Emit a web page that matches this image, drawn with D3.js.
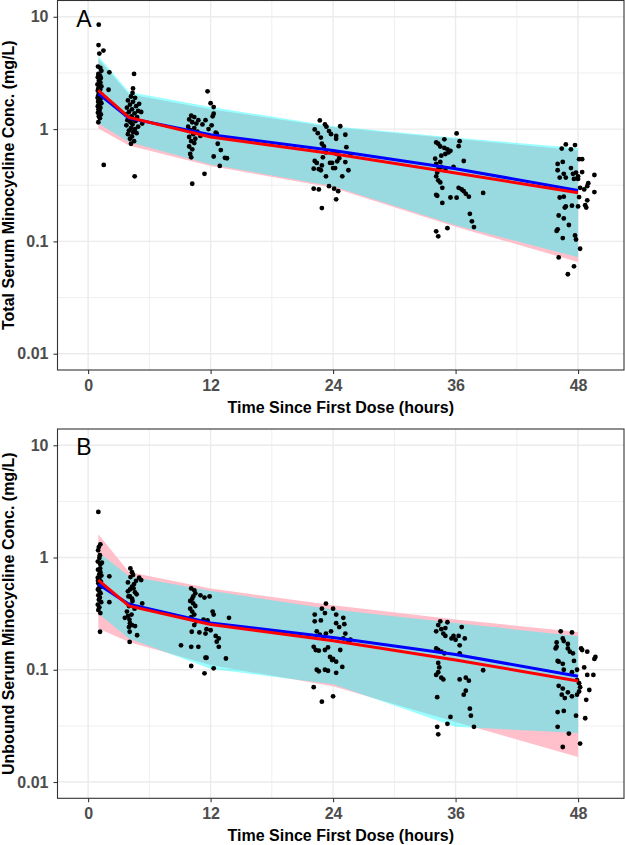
<!DOCTYPE html>
<html><head><meta charset="utf-8">
<script src="https://cdn.jsdelivr.net/npm/d3@7"></script>
<style>body{margin:0;background:#fff}svg{display:block}</style>
</head><body><svg id="chart" width="625" height="845"></svg>
<script>
// ---------- data ----------
const times = [1, 4, 12, 24, 36, 48];
const xTicks = [0, 12, 24, 36, 48];
const xMinor = [6, 18, 30, 42];
const yTicks = [0.01, 0.1, 1, 10];
const yTickLabels = ["0.01", "0.1", "1", "10"];
const yMinor = [0.0316, 0.316, 3.16];

// Panel A (total)
const pinkLoA = [1.01, 0.716, 0.47, 0.30, 0.135, 0.0655];
const pinkHiA = [4.23, 2.04, 1.50, 1.04, 0.82, 0.646];
const cyanLoA = [1.12, 0.766, 0.485, 0.309, 0.139, 0.0724];
const cyanHiA = [4.47, 2.14, 1.57, 1.06, 0.838, 0.677];
const blueA = [2.07, 1.25, 0.89, 0.646, 0.444, 0.284];
const redA = [2.21, 1.27, 0.85, 0.604, 0.406, 0.271];
const ptsA = [
[1.04,8.5],[1.02,5.6],[1.5,5.0],[1.1,4.7],[0.97,3.6],[1.2,3.5],[1.3,3.3],[1.0,3.1],[1.15,3.0],[0.95,2.9],[1.25,2.85],[1.05,2.7],[1.2,2.6],[0.92,2.5],[1.1,2.45],[1.3,2.4],[1.0,2.3],[1.18,2.25],[0.95,2.2],[1.08,2.1],[1.28,2.05],[1.0,2.0],[1.15,1.95],[0.93,1.9],[1.22,1.85],[1.05,1.8],[0.98,1.75],[1.3,1.7],[1.1,1.65],[0.95,1.6],[1.2,1.55],[1.02,1.5],[1.12,1.45],[0.96,1.4],[1.25,1.35],[1.05,1.3],[1.15,1.25],[1.0,1.15],[2.08,3.2],[2.0,2.24],[1.53,0.48],
[4.5,3.1],[4.4,2.3],[4.35,2.1],[4.2,1.95],[4.6,1.9],[3.9,1.8],[4.4,1.75],[5.0,1.68],[4.1,1.65],[4.7,1.6],[3.8,1.55],[4.3,1.5],[4.9,1.45],[4.0,1.42],[5.2,1.42],[4.55,1.38],[3.7,1.35],[4.25,1.3],[4.8,1.28],[4.05,1.25],[4.45,1.22],[3.85,1.2],[4.65,1.18],[4.15,1.15],[5.3,1.12],[4.35,1.1],[3.75,1.08],[4.9,1.05],[4.2,1.02],[4.6,1.0],[4.0,0.97],[4.4,0.94],[4.75,0.92],[3.9,0.9],[4.3,0.86],[4.1,0.82],[4.5,0.78],[4.2,0.74],[4.56,0.38],
[11.7,2.17],[12.0,1.70],[12.3,1.57],[12.3,1.37],[12.2,1.3],[10.1,1.32],[10.4,1.28],[9.9,1.22],[10.8,1.2],[11.5,1.2],[10.2,1.15],[10.6,1.12],[11.2,1.1],[12.1,1.08],[9.8,1.05],[10.4,1.02],[11.8,1.0],[10.0,0.98],[10.7,0.95],[12.5,0.93],[12.6,0.91],[10.3,0.9],[11.0,0.87],[9.9,0.85],[10.5,0.82],[10.1,0.78],[12.7,0.74],[10.4,0.75],[9.9,0.7],[10.2,0.66],[13.0,0.65],[10.0,0.6],[10.1,0.56],[13.4,0.555],[12.3,0.57],[12.9,0.47],[11.4,0.40],[10.2,0.326],[13.6,0.55],
[22.7,1.195],[23.2,1.10],[23.35,1.05],[24.7,1.06],[22.2,0.994],[23.6,0.96],[25.2,0.89],[24.3,0.87],[24.3,0.82],[22.8,0.84],[22.9,0.74],[23.1,0.7],[25.3,0.69],[23.3,0.62],[24.0,0.63],[24.2,0.61],[24.4,0.6],[25.7,0.595],[22.2,0.52],[22.4,0.5],[22.9,0.475],[23.7,0.5],[23.9,0.5],[24.4,0.516],[25.2,0.508],[22.1,0.444],[22.6,0.44],[22.8,0.43],[24.0,0.45],[24.2,0.45],[25.5,0.43],[23.3,0.38],[24.9,0.38],[22.1,0.295],[22.6,0.29],[23.6,0.31],[24.1,0.295],[24.5,0.28],[24.3,0.237],[22.9,0.198],[24.6,0.55],[23.0,0.56],[23.8,0.9],[22.5,0.92],
[36.1,0.915],[36.4,0.78],[34.9,0.81],[36.3,0.705],[34.1,0.76],[34.3,0.74],[34.5,0.7],[34.9,0.68],[35.2,0.66],[35.5,0.64],[35.3,0.62],[35.0,0.6],[34.6,0.58],[34.0,0.545],[34.5,0.51],[34.1,0.49],[36.8,0.52],[34.6,0.46],[34.3,0.44],[34.2,0.41],[34.1,0.38],[34.3,0.35],[34.5,0.335],[35.8,0.46],[35.0,0.43],[34.7,0.30],[36.3,0.30],[36.8,0.28],[37.0,0.265],[37.3,0.25],[36.6,0.29],[38.7,0.27],[35.5,0.246],[36.1,0.245],[34.1,0.26],[34.2,0.255],[34.7,0.22],[37.4,0.176],[37.6,0.151],[37.8,0.134],[34.1,0.123],[34.3,0.111],[35.2,0.131],
[46.8,0.73],[46.4,0.67],[47.7,0.72],[47.3,0.66],[48.1,0.54],[48.4,0.54],[46.0,0.49],[46.5,0.51],[46.0,0.43],[46.6,0.4],[46.8,0.37],[46.2,0.37],[47.3,0.45],[47.5,0.4],[47.8,0.41],[48.0,0.38],[47.6,0.36],[48.0,0.36],[48.4,0.414],[49.6,0.39],[48.9,0.31],[48.6,0.29],[49.6,0.275],[46.2,0.246],[46.6,0.25],[48.1,0.248],[48.9,0.232],[47.4,0.208],[48.0,0.205],[48.7,0.21],[48.8,0.2],[46.7,0.2],[46.8,0.205],[46.1,0.17],[46.6,0.16],[47.1,0.14],[46.0,0.128],[45.9,0.124],[46.5,0.107],[47.7,0.113],[47.8,0.104],[48.2,0.086],[46.1,0.072],[47.6,0.06],[47.0,0.051],[49.0,0.33],[48.2,0.3]
];

// Panel B (unbound)
const pinkLoB = [0.233, 0.177, 0.110, 0.0713, 0.0343, 0.0167];
const pinkHiB = [1.61, 0.744, 0.529, 0.376, 0.28, 0.217];
const cyanLoB = [0.317, 0.19, 0.102, 0.0743, 0.031, 0.0273];
const cyanHiB = [1.12, 0.681, 0.505, 0.344, 0.261, 0.199];
const blueB = [0.578, 0.383, 0.261, 0.194, 0.137, 0.0875];
const redB = [0.628, 0.37, 0.253, 0.181, 0.122, 0.0795];
const ptsB = [
[1.0,2.55],[1.2,1.31],[1.05,1.24],[0.98,1.16],[1.15,1.05],[1.1,0.99],[0.95,0.92],[1.35,0.9],[1.2,0.87],[0.97,0.78],[1.2,0.74],[1.1,0.71],[2.08,0.68],[0.95,0.66],[1.1,0.64],[1.25,0.61],[1.0,0.59],[1.12,0.57],[1.3,0.55],[0.96,0.52],[1.1,0.5],[1.22,0.48],[1.0,0.46],[1.15,0.44],[1.05,0.42],[1.28,0.4],[0.95,0.38],[1.1,0.36],[1.0,0.34],[1.2,0.32],[2.08,0.40],[1.17,0.218],[0.97,0.62],[1.3,0.69],[1.18,0.8],[1.05,0.53],
[4.14,0.80],[4.3,0.74],[4.4,0.7],[4.15,0.67],[5.0,0.66],[5.2,0.63],[3.9,0.6],[4.5,0.58],[4.3,0.55],[4.1,0.52],[3.9,0.5],[4.6,0.49],[4.75,0.47],[4.1,0.45],[4.3,0.43],[5.3,0.39],[4.35,0.41],[4.0,0.37],[4.55,0.35],[3.8,0.33],[3.6,0.29],[3.9,0.3],[4.05,0.28],[4.1,0.26],[4.3,0.25],[4.0,0.24],[4.6,0.245],[4.07,0.218],[4.8,0.203],[4.07,0.177],[4.25,0.31],[3.95,0.45],[4.45,0.53],[4.2,0.38],[4.7,0.62],
[10.1,0.53],[10.4,0.51],[10.5,0.48],[10.3,0.45],[10.2,0.43],[10.0,0.41],[10.3,0.39],[10.5,0.37],[10.0,0.35],[10.2,0.33],[10.4,0.31],[10.1,0.295],[11.0,0.46],[11.4,0.44],[11.9,0.45],[12.2,0.33],[12.3,0.31],[11.3,0.28],[11.7,0.275],[13.8,0.29],[11.6,0.23],[12.0,0.225],[12.5,0.2],[12.8,0.19],[12.6,0.178],[11.5,0.21],[10.9,0.215],[10.15,0.218],[9.1,0.165],[10.1,0.16],[10.8,0.16],[12.8,0.16],[11.5,0.128],[13.5,0.126],[10.1,0.108],[11.4,0.093],[12.3,0.103],[11.6,0.128],[10.4,0.25],[10.6,0.27],
[23.3,0.389],[22.9,0.35],[24.0,0.35],[22.2,0.31],[23.2,0.32],[24.3,0.31],[25.0,0.29],[22.2,0.27],[22.8,0.275],[24.3,0.26],[25.1,0.255],[24.6,0.24],[22.4,0.22],[22.7,0.205],[23.3,0.21],[23.8,0.22],[25.2,0.21],[23.1,0.195],[25.0,0.19],[25.7,0.185],[25.5,0.18],[22.1,0.16],[22.3,0.15],[22.6,0.148],[23.2,0.15],[23.7,0.13],[24.0,0.125],[24.3,0.118],[23.9,0.122],[23.5,0.158],[24.7,0.15],[22.4,0.1],[22.6,0.097],[23.2,0.1],[23.5,0.098],[24.3,0.094],[24.9,0.106],[22.1,0.07],[24.0,0.058],[22.9,0.052],
[34.5,0.27],[35.2,0.265],[34.3,0.25],[34.6,0.23],[35.0,0.235],[34.1,0.22],[34.8,0.21],[35.0,0.2],[35.8,0.2],[35.6,0.19],[36.9,0.19],[36.6,0.24],[36.3,0.2],[36.0,0.185],[34.1,0.155],[34.3,0.15],[34.6,0.145],[34.9,0.14],[36.4,0.14],[36.4,0.165],[34.3,0.115],[34.4,0.105],[34.3,0.095],[34.1,0.09],[34.6,0.085],[34.8,0.082],[36.4,0.082],[37.0,0.085],[37.3,0.08],[37.0,0.065],[36.8,0.06],[34.2,0.057],[35.5,0.038],[37.4,0.045],[37.5,0.039],[37.8,0.031],[35.2,0.033],[34.2,0.031],[34.3,0.0266],[38.7,0.099],
[46.3,0.22],[47.4,0.215],[46.5,0.19],[45.9,0.175],[46.6,0.18],[47.0,0.17],[45.9,0.16],[45.8,0.155],[47.0,0.155],[47.5,0.14],[47.2,0.145],[48.3,0.155],[48.4,0.15],[48.9,0.145],[49.7,0.13],[49.6,0.125],[46.0,0.12],[46.1,0.118],[46.5,0.113],[47.6,0.12],[46.6,0.1],[47.4,0.095],[47.9,0.1],[48.6,0.105],[48.9,0.09],[49.5,0.09],[47.9,0.081],[48.1,0.076],[48.2,0.07],[46.1,0.072],[46.5,0.068],[46.7,0.056],[46.4,0.06],[47.0,0.063],[47.4,0.058],[47.9,0.06],[48.1,0.064],[49.1,0.066],[48.8,0.054],[46.0,0.042],[46.6,0.043],[47.8,0.039],[48.7,0.037],[46.0,0.031],[47.1,0.027],[46.5,0.0205],[48.2,0.022]
];

const panels = [
  {label: "A", yTitle: "Total Serum Minocycline Conc. (mg/L)", top: 0.5, bottom: 370,
   pinkLo: pinkLoA, pinkHi: pinkHiA, cyanLo: cyanLoA, cyanHi: cyanHiA, blue: blueA, red: redA, pts: ptsA},
  {label: "B", yTitle: "Unbound Serum Minocycline Conc. (mg/L)", top: 429, bottom: 798.3,
   pinkLo: pinkLoB, pinkHi: pinkHiB, cyanLo: cyanLoB, cyanHi: cyanHiB, blue: blueB, red: redB, pts: ptsB}
];
const xTitle = "Time Since First Dose (hours)";

// ---------- drawing ----------
const FONT = "'Liberation Sans', Arial, sans-serif";
const svg = d3.select("#chart");
const left = 57.5, right = 624;
const x = d3.scaleLinear().domain([-3, 52.5]).range([left, right]);

panels.forEach(p => {
  const y = d3.scaleLog().domain([0.00716, 13.96]).range([p.bottom, p.top]);
  const g = svg.append("g");
  const clipId = "clip" + p.label;
  svg.append("clipPath").attr("id", clipId).append("rect")
    .attr("x", left).attr("y", p.top).attr("width", right - left).attr("height", p.bottom - p.top);
  const plot = g.append("g").attr("clip-path", `url(#${clipId})`);

  // grid
  plot.selectAll(".ymin").data(yMinor).join("line")
    .attr("x1", left).attr("x2", right).attr("y1", d => y(d)).attr("y2", d => y(d))
    .attr("stroke", "#ebebeb").attr("stroke-width", 0.8);
  plot.selectAll(".xmin").data(xMinor).join("line")
    .attr("y1", p.top).attr("y2", p.bottom).attr("x1", d => x(d)).attr("x2", d => x(d))
    .attr("stroke", "#ebebeb").attr("stroke-width", 0.8);
  plot.selectAll(".ymaj").data(yTicks).join("line")
    .attr("x1", left).attr("x2", right).attr("y1", d => y(d)).attr("y2", d => y(d))
    .attr("stroke", "#ebebeb").attr("stroke-width", 1.4);
  plot.selectAll(".xmaj").data(xTicks).join("line")
    .attr("y1", p.top).attr("y2", p.bottom).attr("x1", d => x(d)).attr("x2", d => x(d))
    .attr("stroke", "#ebebeb").attr("stroke-width", 1.4);

  // ribbons
  const idx = d3.range(times.length);
  const pinkArea = d3.area().x(i => x(times[i])).y0(i => y(p.pinkLo[i])).y1(i => y(p.pinkHi[i]));
  const cyanArea = d3.area().x(i => x(times[i])).y0(i => y(p.cyanLo[i])).y1(i => y(p.cyanHi[i]));
  plot.append("path").attr("d", pinkArea(idx)).attr("fill", "#ffc0cb");
  plot.append("path").attr("d", cyanArea(idx)).attr("fill", "#00ffff").attr("fill-opacity", 0.4);

  // points
  plot.selectAll(".pt").data(p.pts).join("circle")
    .attr("cx", d => x(d[0])).attr("cy", d => y(d[1])).attr("r", 2.4).attr("fill", "#000");

  // lines
  const line = arr => d3.line().x(i => x(times[i])).y(i => y(arr[i]))(idx);
  plot.append("path").attr("d", line(p.blue)).attr("fill", "none").attr("stroke", "#0000ff").attr("stroke-width", 3);
  plot.append("path").attr("d", line(p.red)).attr("fill", "none").attr("stroke", "#ff0000").attr("stroke-width", 3);

  // panel label
  g.append("text").attr("x", x(-0.4)).attr("y", y(10) + 10).attr("text-anchor", "middle")
    .attr("font-family", FONT).attr("font-size", 23).attr("fill", "#000").text(p.label);

  // border
  g.append("rect").attr("x", left).attr("y", p.top).attr("width", right - left).attr("height", p.bottom - p.top)
    .attr("fill", "none").attr("stroke", "#333333").attr("stroke-width", 1.1);

  // axes
  const xa = g.append("g").attr("transform", `translate(0,${p.bottom})`)
    .call(d3.axisBottom(x).tickValues(xTicks).tickSize(4).tickPadding(5.5));
  const ya = g.append("g").attr("transform", `translate(${left},0)`)
    .call(d3.axisLeft(y).tickValues(yTicks).tickFormat((d, i) => yTickLabels[i]).tickSize(4).tickPadding(5));
  [xa, ya].forEach(a => {
    a.select(".domain").remove();
    a.selectAll(".tick line").attr("stroke", "#333333").attr("stroke-width", 1.1);
    a.selectAll(".tick text").attr("font-family", FONT).attr("font-size", 16)
      .attr("font-weight", "bold").attr("fill", "#4d4d4d");
  });

  // titles
  g.append("text").attr("x", (left + right) / 2).attr("y", p.bottom + 43).attr("text-anchor", "middle")
    .attr("font-family", FONT).attr("font-size", 16).attr("font-weight", "bold").attr("fill", "#000").text(xTitle);
  g.append("text").attr("transform", `translate(13.5,${(p.top + p.bottom) / 2}) rotate(-90)`)
    .attr("text-anchor", "middle")
    .attr("font-family", FONT).attr("font-size", 16).attr("font-weight", "bold").attr("fill", "#000").text(p.yTitle);
});
</script>
</body></html>
